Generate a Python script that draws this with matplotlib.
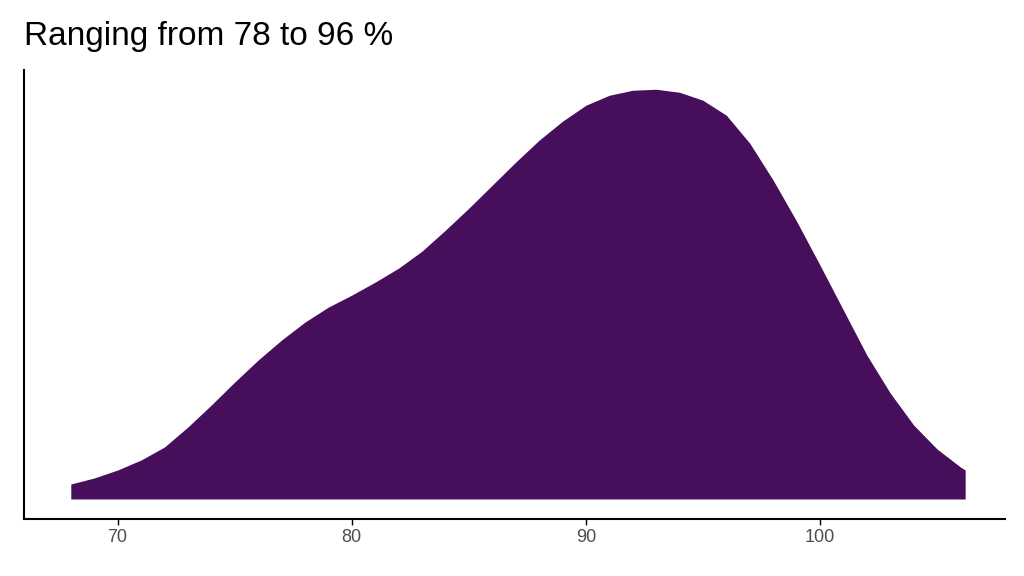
import matplotlib
matplotlib.use('Agg')
import matplotlib.pyplot as plt

plt.rcParams['font.family'] = ['Liberation Sans', 'DejaVu Sans']

# density curve (arbitrary height units)
score = [68, 69, 70, 71, 72, 73, 74, 75, 76, 77, 78, 79, 80, 81, 82, 83, 84, 85, 86, 87,
         88, 89, 90, 91, 92, 93, 94, 95, 96, 97, 98, 99, 100, 101, 102, 103, 104, 105, 106, 106.2]
density = [15, 21, 29, 39, 52, 72, 94, 117, 139, 159, 177, 192, 204, 217, 231, 248, 269, 291, 314, 337,
           359, 378, 394, 404, 409, 410, 407, 399, 384, 356, 319, 278, 234, 189, 144, 106, 74, 50, 32, 29]

fig = plt.figure(figsize=(10.24, 5.76), dpi=100)
ax = fig.add_axes([0.0234, 0.099, 0.958, 0.779])
ax.fill_between(score, 0, density, color='#470E5C', linewidth=0)
ax.set_xlim(66, 107.9)
ax.set_ylim(-20, 429)
ax.set_yticks([])
ax.set_xticks([70, 80, 90, 100])
ax.tick_params(axis='x', labelsize=13, labelcolor='#4d4d4d', length=4, width=1)
for side in ('top', 'right'):
  ax.spines[side].set_visible(False)
for side in ('left', 'bottom'):
  ax.spines[side].set_linewidth(1.5)
fig.text(0.0234, 0.91, 'Ranging from 78 to 96 %', fontsize=24, ha='left', va='bottom')
fig.savefig('out.png', dpi=100)
